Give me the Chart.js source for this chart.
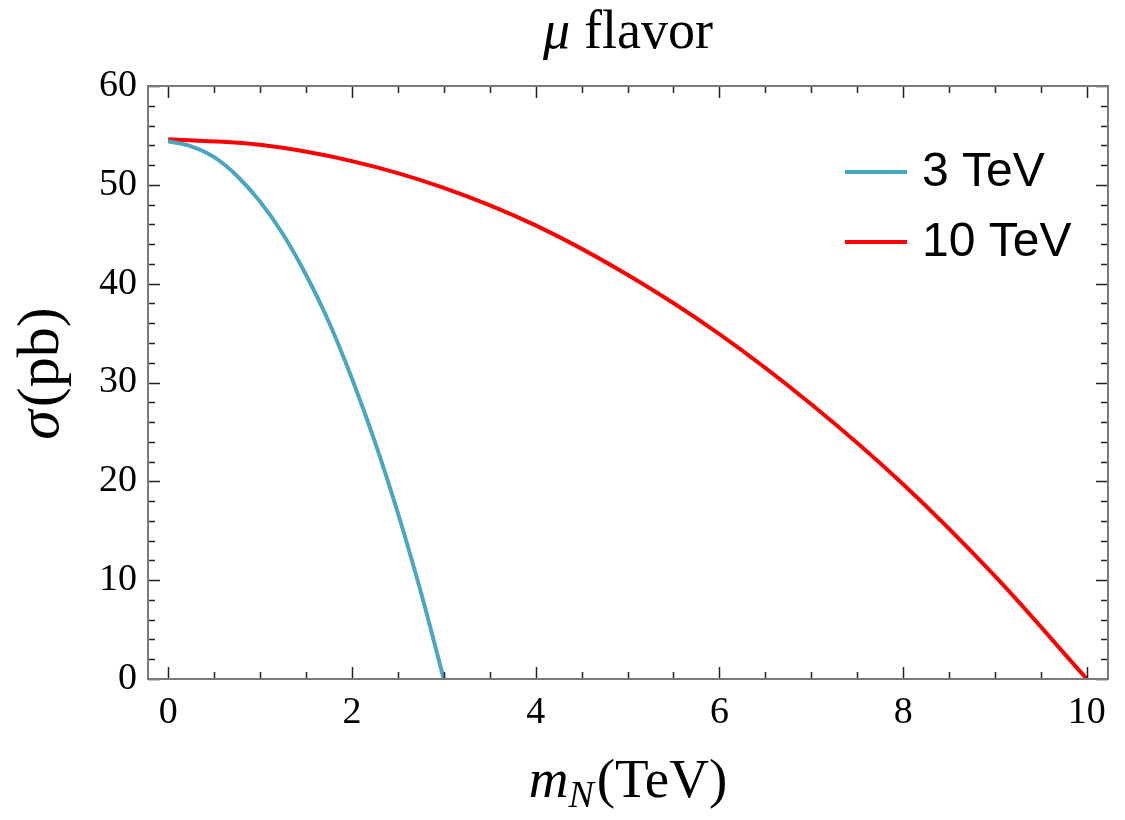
<!DOCTYPE html>
<html>
<head>
<meta charset="utf-8">
<script src="https://cdn.jsdelivr.net/npm/chart.js@4/dist/chart.umd.min.js"></script>
<style>
  html, body { margin: 0; padding: 0; background: #fff; }
</style>
</head>
<body>
<canvas id="chart" width="1125" height="820"></canvas>
<script>
// values
const mass3 = [0, 0.25, 0.5, 0.75, 1, 1.25, 1.5, 1.75, 2, 2.25, 2.5, 2.75, 3];
const sigma3 = [54.4, 53.9, 52.8, 50.9, 48.3, 45.0, 40.9, 36.1, 30.4, 24.0, 16.8, 8.8, 0];
const mass10 = [0, 1, 2, 3, 4, 5, 6, 7, 8, 9, 10];
const sigma10 = [54.6, 54.05, 52.4, 49.7, 45.9, 40.9, 34.9, 27.8, 19.7, 10.4, 0];
const seriesLabels = ['3 TeV', '10 TeV'];
const seriesColors = ['#4ba6c1', '#ff0000'];
const xTicks = [0, 2, 4, 6, 8, 10];
const yTicks = [0, 10, 20, 30, 40, 50, 60];

const SERIF = '"Liberation Serif", "Times New Roman", serif';
const SANS = '"Liberation Sans", Arial, sans-serif';

function toPoints(xs, ys) {
    return xs.map((x, i) => ({ x: x, y: ys[i] }));
}

// draw a run of text pieces with different fonts, centered on cx
function drawRuns(ctx, runs, cx, baseY) {
    let total = 0;
    runs.forEach(r => {
        ctx.font = r.font;
        total += ctx.measureText(r.text).width + (r.gap || 0);
    });
    let x = cx - total / 2;
    runs.forEach(r => {
        ctx.font = r.font;
        ctx.fillText(r.text, x, baseY + (r.dy || 0));
        x += ctx.measureText(r.text).width + (r.gap || 0);
    });
}

const framePlugin = {
    id: 'frame',
    afterDatasetsDraw(chart) {
        const { ctx, chartArea: a, scales } = chart;
        const xs = scales.x, ys = scales.y;
        ctx.save();
        ctx.strokeStyle = '#222';
        ctx.lineWidth = 1.5;
        ctx.beginPath();
        // x ticks (major + minor), bottom and top, pointing inward
        for (let v = xTicks[0]; v <= xTicks[xTicks.length - 1] + 1e-9; v += 0.5) {
            const px = Math.round(xs.getPixelForValue(v)) + 0.5;
            const len = xTicks.includes(v) ? 12 : 7;
            ctx.moveTo(px, a.bottom); ctx.lineTo(px, a.bottom - len);
            ctx.moveTo(px, a.top); ctx.lineTo(px, a.top + len);
        }
        // y ticks, left and right
        for (let v = yTicks[0]; v <= yTicks[yTicks.length - 1] + 1e-9; v += 2) {
            const py = Math.round(ys.getPixelForValue(v)) + 0.5;
            const len = yTicks.includes(v) ? 12 : 7;
            ctx.moveTo(a.left, py); ctx.lineTo(a.left + len, py);
            ctx.moveTo(a.right, py); ctx.lineTo(a.right - len, py);
        }
        ctx.stroke();
        ctx.strokeStyle = '#7a7a7a';
        ctx.lineWidth = 2;
        ctx.strokeRect(a.left, a.top, a.right - a.left, a.bottom - a.top);

        // legend
        const ds = chart.data.datasets;
        ds.forEach((d, i) => {
            const y = a.top + 86 + i * 70;
            ctx.strokeStyle = d.borderColor;
            ctx.lineWidth = 4;
            ctx.beginPath();
            ctx.moveTo(a.left + 697, y);
            ctx.lineTo(a.left + 759, y);
            ctx.stroke();
            ctx.fillStyle = '#000';
            ctx.font = '48px ' + SANS;
            ctx.textBaseline = 'alphabetic';
            ctx.fillText(d.label, a.left + 774, y + 14);
        });

        // titles
        ctx.fillStyle = '#000';
        ctx.textBaseline = 'alphabetic';
        const cx = (a.left + a.right) / 2;
        drawRuns(ctx, [
            { text: 'μ', font: 'italic 54px ' + SERIF, gap: 14 },
            { text: 'flavor', font: '54px ' + SERIF }
        ], cx, 48);
        drawRuns(ctx, [
            { text: 'm', font: 'italic 55px ' + SERIF },
            { text: 'N', font: 'italic 38px ' + SERIF, dy: 10, gap: 3 },
            { text: '(TeV)', font: '55px ' + SERIF }
        ], cx, 797);
        ctx.translate(58, (a.top + a.bottom) / 2 - 9);
        ctx.rotate(-Math.PI / 2);
        drawRuns(ctx, [
            { text: 'σ', font: 'italic 60px ' + SERIF, gap: 3 },
            { text: '(pb)', font: '60px ' + SERIF }
        ], 0, 0);
        ctx.restore();
    }
};

new Chart(document.getElementById('chart'), {
    type: 'line',
    data: {
        datasets: [
            { label: seriesLabels[0], data: toPoints(mass3, sigma3), borderColor: seriesColors[0] },
            { label: seriesLabels[1], data: toPoints(mass10, sigma10), borderColor: seriesColors[1] }
        ]
    },
    options: {
        responsive: false,
        animation: false,
        layout: { padding: { top: 86, left: 88, right: 17, bottom: 81 } },
        elements: {
            point: { radius: 0 },
            line: { borderWidth: 4, cubicInterpolationMode: 'monotone', fill: false }
        },
        scales: {
            x: {
                type: 'linear',
                min: -0.22,
                max: 10.23,
                grid: { display: false, drawTicks: false },
                border: { display: false },
                afterBuildTicks: s => { s.ticks = xTicks.map(v => ({ value: v })); },
                afterFit: s => { s.height = 60; },
                ticks: { color: '#000', padding: 11, font: { family: SERIF, size: 38 } }
            },
            y: {
                min: 0,
                max: 60,
                grid: { display: false, drawTicks: false },
                border: { display: false },
                afterBuildTicks: s => { s.ticks = yTicks.map(v => ({ value: v })); },
                afterFit: s => { s.width = 60; },
                ticks: { color: '#000', padding: 11, font: { family: SERIF, size: 38 } }
            }
        },
        plugins: {
            legend: { display: false },
            title: { display: false },
            tooltip: { enabled: false }
        }
    },
    plugins: [framePlugin]
});
</script>
</body>
</html>
